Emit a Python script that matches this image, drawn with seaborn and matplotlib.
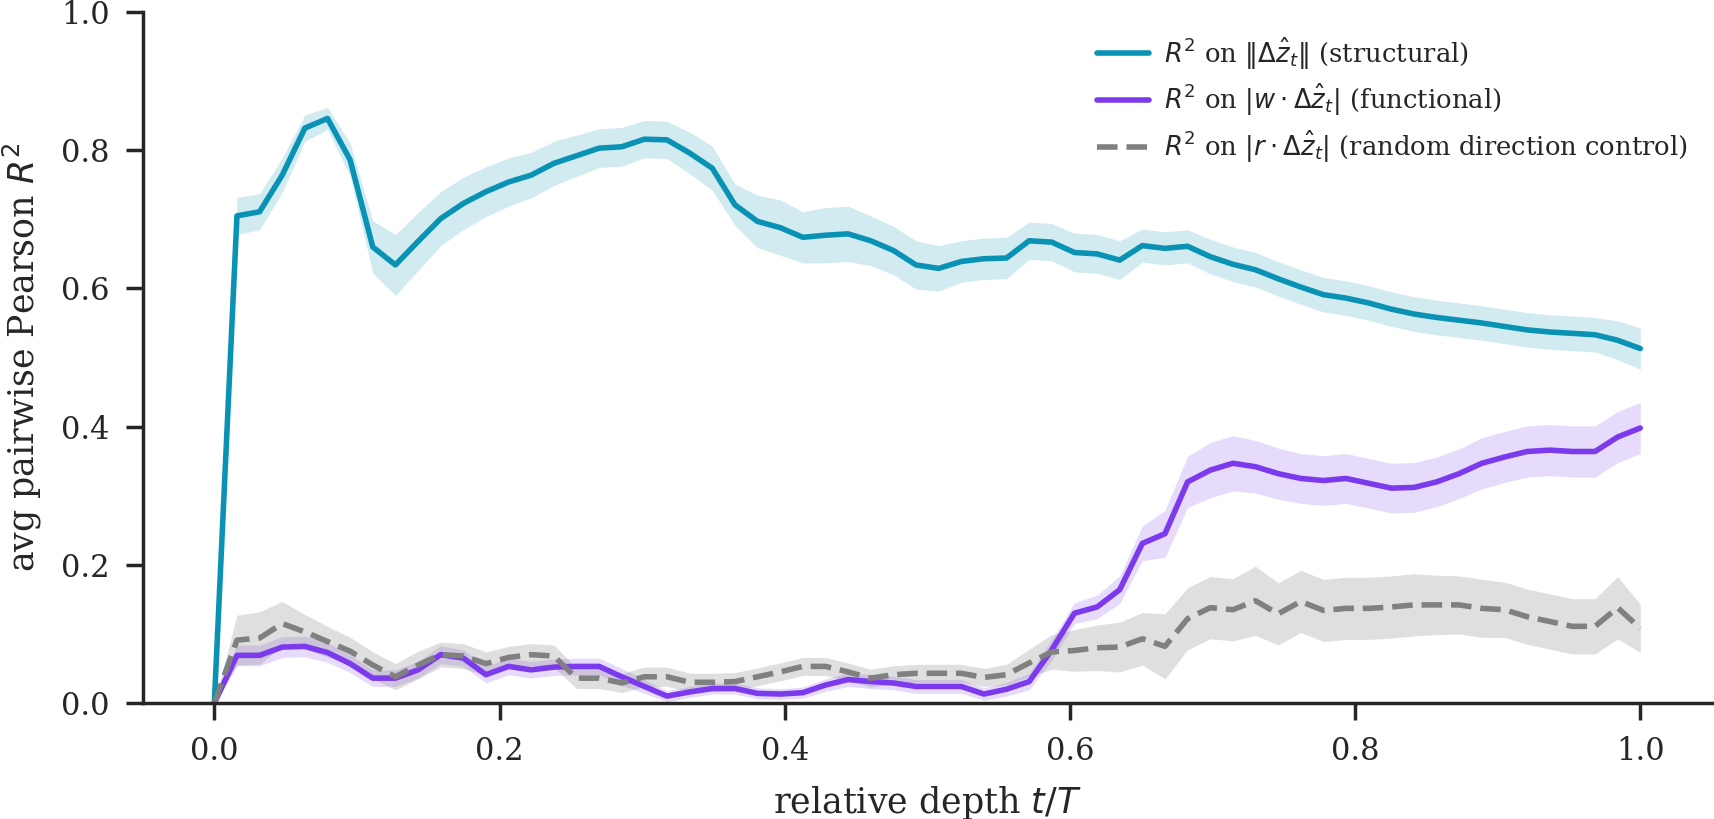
import numpy as np
import pandas as pd
import matplotlib
matplotlib.use("Agg")
import matplotlib.pyplot as plt
import seaborn as sns

# relative depth grid (64 layers)
n_layers = 64
depth = np.arange(n_layers) / (n_layers - 1)

# R^2 on ||dz|| (structural)
struct_mean = [0.0, 0.705, 0.711, 0.764, 0.832, 0.846, 0.786, 0.660, 0.634, 0.668,
               0.701, 0.723, 0.740, 0.754, 0.764, 0.781, 0.792, 0.803, 0.805, 0.816,
               0.815, 0.796, 0.774, 0.721, 0.697, 0.688, 0.674, 0.677, 0.679, 0.669,
               0.655, 0.634, 0.629, 0.639, 0.643, 0.644, 0.669, 0.667, 0.652, 0.650,
               0.641, 0.662, 0.658, 0.661, 0.646, 0.635, 0.627, 0.614, 0.602, 0.591,
               0.586, 0.579, 0.570, 0.563, 0.558, 0.554, 0.550, 0.545, 0.540, 0.537,
               0.535, 0.533, 0.525, 0.513]
struct_err = [0.0, 0.027, 0.026, 0.025, 0.019, 0.016, 0.024, 0.038, 0.044, 0.042,
              0.039, 0.038, 0.036, 0.035, 0.033, 0.032, 0.030, 0.028, 0.028, 0.027,
              0.027, 0.030, 0.032, 0.030, 0.038, 0.040, 0.037, 0.040, 0.040, 0.036,
              0.035, 0.035, 0.033, 0.030, 0.030, 0.030, 0.027, 0.027, 0.028, 0.028,
              0.028, 0.024, 0.024, 0.024, 0.025, 0.025, 0.025, 0.025, 0.025, 0.025,
              0.025, 0.025, 0.025, 0.025, 0.025, 0.025, 0.025, 0.025, 0.025, 0.025,
              0.025, 0.025, 0.028, 0.030]

# R^2 on |w . dz| (functional)
func_mean = [0.0, 0.069, 0.069, 0.081, 0.082, 0.073, 0.057, 0.036, 0.036, 0.048,
             0.070, 0.065, 0.041, 0.053, 0.048, 0.052, 0.053, 0.053, 0.038, 0.024,
             0.010, 0.016, 0.021, 0.021, 0.014, 0.013, 0.015, 0.026, 0.034, 0.031,
             0.029, 0.024, 0.024, 0.024, 0.013, 0.020, 0.031, 0.077, 0.130, 0.139,
             0.164, 0.231, 0.245, 0.320, 0.337, 0.347, 0.342, 0.332, 0.325, 0.322,
             0.325, 0.318, 0.311, 0.312, 0.320, 0.332, 0.347, 0.356, 0.364, 0.366,
             0.364, 0.364, 0.385, 0.398]
func_err = [0.0, 0.015, 0.015, 0.015, 0.015, 0.014, 0.013, 0.012, 0.012, 0.012,
            0.013, 0.012, 0.012, 0.012, 0.012, 0.012, 0.012, 0.012, 0.012, 0.010,
            0.008, 0.008, 0.008, 0.008, 0.008, 0.008, 0.008, 0.009, 0.010, 0.010,
            0.010, 0.010, 0.010, 0.010, 0.009, 0.010, 0.012, 0.015, 0.015, 0.017,
            0.020, 0.025, 0.034, 0.037, 0.040, 0.040, 0.038, 0.037, 0.036, 0.036,
            0.036, 0.036, 0.036, 0.036, 0.036, 0.036, 0.037, 0.037, 0.037, 0.037,
            0.037, 0.037, 0.037, 0.037]

# R^2 on |r . dz| (random direction control)
ctrl_mean = [0.0, 0.091, 0.094, 0.115, 0.103, 0.089, 0.075, 0.055, 0.038, 0.055,
             0.070, 0.068, 0.057, 0.066, 0.070, 0.068, 0.036, 0.036, 0.029, 0.038,
             0.038, 0.030, 0.030, 0.031, 0.038, 0.045, 0.053, 0.053, 0.045, 0.036,
             0.041, 0.043, 0.043, 0.043, 0.037, 0.041, 0.058, 0.074, 0.076, 0.080,
             0.081, 0.093, 0.082, 0.122, 0.138, 0.135, 0.148, 0.129, 0.147, 0.134,
             0.137, 0.137, 0.139, 0.142, 0.142, 0.142, 0.137, 0.135, 0.125, 0.118,
             0.111, 0.111, 0.138, 0.108]
ctrl_err = [0.0, 0.036, 0.038, 0.032, 0.025, 0.022, 0.020, 0.019, 0.019, 0.020,
            0.018, 0.018, 0.017, 0.016, 0.016, 0.016, 0.015, 0.015, 0.014, 0.014,
            0.014, 0.013, 0.013, 0.013, 0.013, 0.013, 0.013, 0.013, 0.013, 0.013,
            0.013, 0.013, 0.013, 0.013, 0.013, 0.015, 0.020, 0.025, 0.030, 0.033,
            0.036, 0.038, 0.047, 0.045, 0.045, 0.045, 0.050, 0.045, 0.045, 0.045,
            0.045, 0.045, 0.045, 0.045, 0.043, 0.042, 0.042, 0.040, 0.040, 0.040,
            0.040, 0.040, 0.045, 0.035]

labels = [r"$R^2$ on $\|\Delta\hat{z}_t\|$ (structural)",
          r"$R^2$ on $|w\cdot\Delta\hat{z}_t|$ (functional)",
          r"$R^2$ on $|r\cdot\Delta\hat{z}_t|$ (random direction control)"]
colors = ["#0a92b5", "#7c3aed", "#808080"]
band_alpha = [0.18, 0.18, 0.25]
styles = ["-", "-", "--"]

sns.set_theme(style="ticks")
plt.rcParams["font.family"] = ["DejaVu Serif"]

fig, ax = plt.subplots(figsize=(8.575, 4.095), dpi=200)
fig.subplots_adjust(left=0.0834, right=0.998, bottom=0.1416, top=0.9853)

series = [(struct_mean, struct_err), (func_mean, func_err), (ctrl_mean, ctrl_err)]
for (m, e), lab, col, a, ls in zip(series, labels, colors, band_alpha, styles):
    m = np.array(m)
    e = np.array(e)
    ax.fill_between(depth, m - e, m + e, color=col, alpha=a, linewidth=0)
    df = pd.DataFrame({"depth": depth, "r2": m})
    sns.lineplot(data=df, x="depth", y="r2", ax=ax, color=col, linewidth=2.0,
                 linestyle=ls, label=lab)

ax.set_ylim(0, 1.0)
ax.set_xlabel("relative depth $t/T$", fontsize=12.5, labelpad=6)
ax.set_ylabel("avg pairwise Pearson $R^2$", fontsize=12.5, labelpad=6)
ax.tick_params(labelsize=11, pad=6)
ax.legend(loc="upper right", frameon=False, fontsize=9.3, labelspacing=0.4,
          handletextpad=0.6)
sns.despine(ax=ax)

fig.savefig("out.png", dpi=200)
